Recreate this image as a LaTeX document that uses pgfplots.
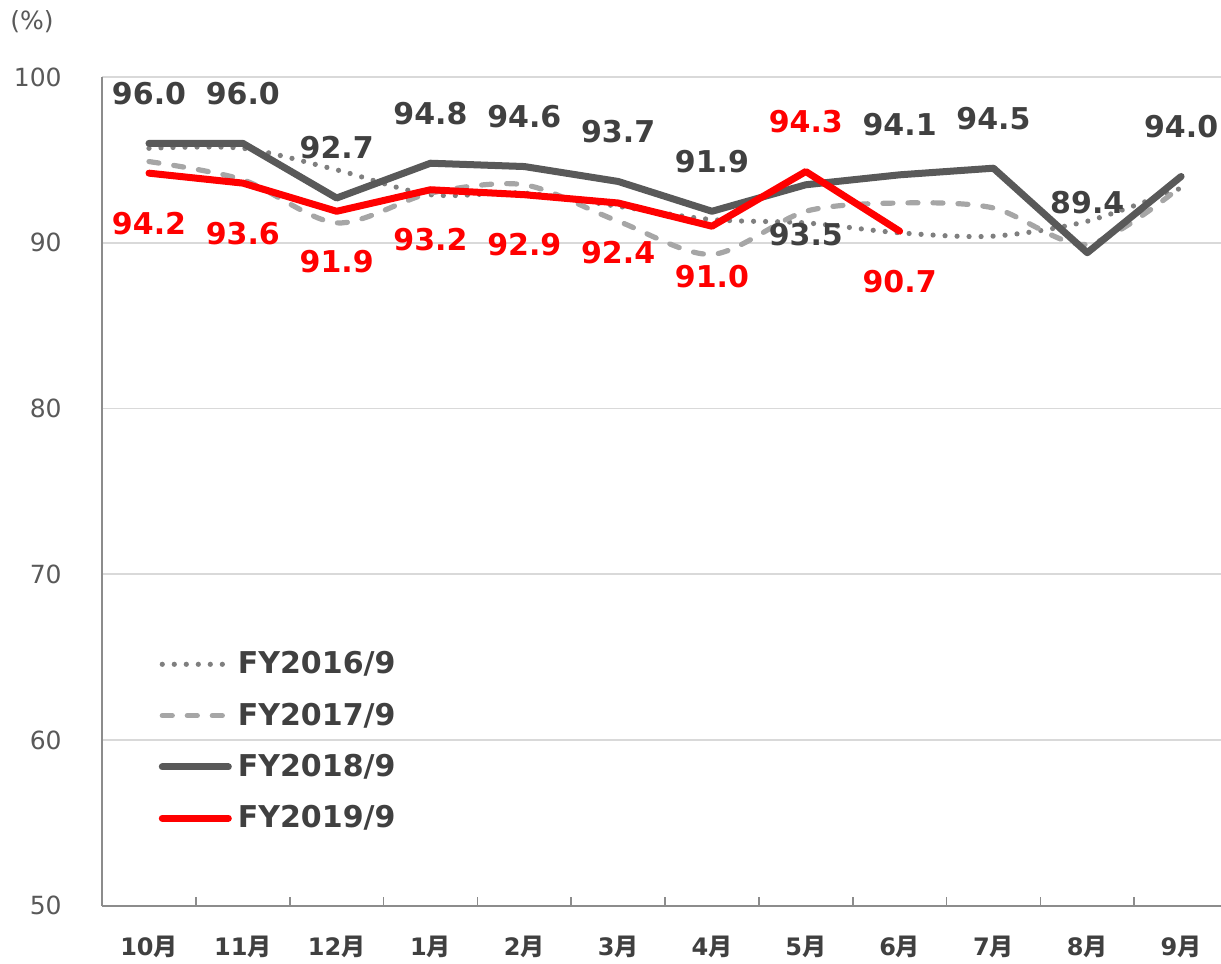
\documentclass[border=0pt]{standalone}
\usepackage{pgfplots}
\pgfplotsset{compat=1.18}
\usepackage{pgfplotstable}
\usepackage{fontspec}
\setmainfont{DejaVu Sans}
\newfontfamily\cjk{Noto Sans CJK JP}

\definecolor{dark}{HTML}{595959}
\definecolor{txt}{HTML}{404040}
\definecolor{dashgray}{HTML}{A6A6A6}
\definecolor{dotgray}{HTML}{7F7F7F}
\definecolor{gridgray}{HTML}{D9D9D9}
\definecolor{axgray}{HTML}{8C8C8C}

% x = month index (0 = Oct), pos = label above (1) or below (-1)
\pgfplotstableread{
x y
0 95.7
1 95.7
2 94.4
3 92.9
4 93.0
5 92.2
6 91.4
7 91.2
8 90.6
9 90.4
10 91.3
11 93.3
}\fyA
\pgfplotstableread{
x y
0 94.9
1 93.8
2 91.2
3 93.0
4 93.5
5 91.3
6 89.3
7 91.9
8 92.4
9 92.1
10 89.9
11 93.4
}\fyB
\pgfplotstableread{
x y pos
0 96.0 1
1 96.0 1
2 92.7 1
3 94.8 1
4 94.6 1
5 93.7 1
6 91.9 1
7 93.5 -1
8 94.1 1
9 94.5 1
10 89.4 1
11 94.0 1
}\fyC
\pgfplotstableread{
x y pos
0 94.2 -1
1 93.6 -1
2 91.9 -1
3 93.2 -1
4 92.9 -1
5 92.4 -1
6 91.0 -1
7 94.3 1
8 90.7 -1
}\fyD

\begin{document}
\begin{tikzpicture}
\begin{axis}[
    name=ax,
    scale only axis,
    width=562.5pt, height=414pt,
    xmin=-0.5, xmax=11.5,
    ymin=50, ymax=100,
    ytick={50,60,...,100},
    xtick={0,...,11},
    xticklabels={10{\cjk 月},11{\cjk 月},12{\cjk 月},1{\cjk 月},2{\cjk 月},3{\cjk 月},4{\cjk 月},5{\cjk 月},6{\cjk 月},7{\cjk 月},8{\cjk 月},9{\cjk 月}},
    minor xtick={0.5,1.5,...,10.5},
    major tick length=0pt,
    minor tick length=4.5pt,
    tick align=inside,
    minor tick style={axgray, line width=0.8pt},
    axis x line*=bottom,
    axis y line*=left,
    axis line style={axgray, line width=0.8pt, -},
    ymajorgrids,
    grid style={gridgray, line width=0.8pt},
    /pgf/number format/assume math mode=true,
    xticklabel style={anchor=base, yshift=-25pt, font=\fontsize{12}{14}\selectfont\bfseries, text=txt},
    yticklabel style={anchor=east, inner sep=0pt, xshift=-20pt, font=\fontsize{12.5}{14}\selectfont, text=dark},
    legend style={at={(rel axis cs:0.05,0.085)}, anchor=south west, draw=none, fill=none,
        font=\fontsize{15}{18}\selectfont\bfseries, text=txt, row sep=9pt, inner sep=0pt,
        column sep=1pt},
    legend cell align=left,
    legend image code/.code={\draw[#1] (0pt,0pt) -- (33pt,0pt);},
    clip=false,
]
\addplot[dotgray, line width=2.6pt, line cap=round, dash pattern=on 0pt off 6pt, smooth, tension=0.5]
    table[x=x, y=y] {\fyA};
\addlegendentry{FY2016/9}
\addplot[dashgray, line width=2.6pt, line cap=round, dash pattern=on 5pt off 7.5pt, smooth, tension=0.5]
    table[x=x, y=y] {\fyB};
\addlegendentry{FY2017/9}
\addplot[dark, line width=3.5pt, line cap=round, line join=round,
    visualization depends on={\thisrow{pos} \as \pos},
    nodes near coords, point meta=explicit symbolic,
    every node near coord/.style={anchor=center, yshift=25pt*\pos, text=txt,
        font=\fontsize{15}{18}\selectfont\bfseries}]
    table[x=x, y=y, meta=y] {\fyC};
\addlegendentry{FY2018/9}
\addplot[red, line width=3.5pt, line cap=round, line join=round,
    visualization depends on={\thisrow{pos} \as \pos},
    nodes near coords, point meta=explicit symbolic,
    every node near coord/.style={anchor=center, yshift=25pt*\pos, text=red,
        font=\fontsize{15}{18}\selectfont\bfseries}]
    table[x=x, y=y, meta=y] {\fyD};
\addlegendentry{FY2019/9}
\node[anchor=center, text=dark, font=\fontsize{12.5}{14}\selectfont]
    at ([xshift=-35pt, yshift=27.5pt]rel axis cs:0,1) {(\%)};
\end{axis}
\pgfresetboundingbox
\path[use as bounding box] ([xshift=-51pt, yshift=-29pt]ax.south west) rectangle ([xshift=-3.5pt, yshift=38.5pt]ax.north east);
\end{tikzpicture}
\end{document}
